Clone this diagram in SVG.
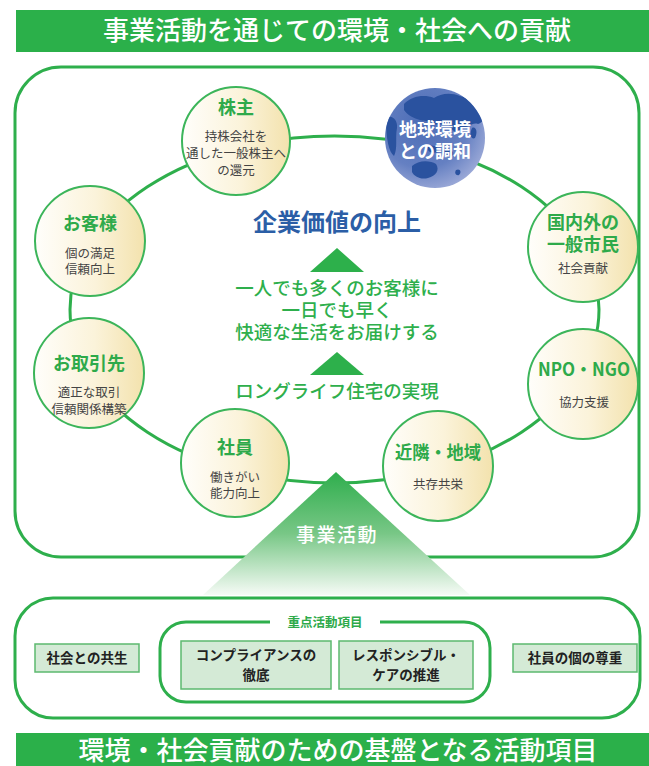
<svg xmlns="http://www.w3.org/2000/svg" width="649" height="766" viewBox="0 0 649 766">
  <style>
    .jp { font-family: "Noto Sans CJK JP", "Noto Sans", sans-serif; }
    .bar { fill: #2bb04a; }
    .bar-text { fill: #ffffff; font-size: 26px; font-weight: 500; text-anchor: middle; }
    .frame { fill: none; stroke: #2eaf4c; stroke-width: 3; }
    .ring { fill: none; stroke: #2eaf4c; stroke-width: 3; }
    .node-circle { fill: url(#cream); stroke: #3cb55a; stroke-width: 2; }
    .node-title { fill: #2eaa4a; font-size: 18px; font-weight: 700; text-anchor: middle; }
    .node-sub { fill: #444444; font-size: 12.5px; text-anchor: middle; }
    .center-green { fill: #2eaf4c; font-size: 18.5px; font-weight: 500; text-anchor: middle; }
    .box { fill: #d4ead6; stroke: #5cb96f; stroke-width: 1.5; }
    .box-text { fill: #222222; font-size: 13.5px; font-weight: 700; text-anchor: middle; }
    .land { fill: #2a529f; }
  </style>
  <defs>
    <linearGradient id="cream" x1="0" y1="0" x2="1" y2="0">
      <stop offset="0" stop-color="#fffefb"/>
      <stop offset="0.55" stop-color="#fbf3da"/>
      <stop offset="1" stop-color="#f3e2ad"/>
    </linearGradient>
    <radialGradient id="globeShade" cx="0.38" cy="0.35" r="0.75">
      <stop offset="0" stop-color="#4b6cb6"/>
      <stop offset="0.6" stop-color="#6580c2"/>
      <stop offset="1" stop-color="#a7b2dc"/>
    </radialGradient>
    <linearGradient id="pyramid" x1="0" y1="0" x2="0" y2="1">
      <stop offset="0" stop-color="#2fae4d"/>
      <stop offset="0.5" stop-color="#78c786"/>
      <stop offset="1" stop-color="#f6fbf6"/>
    </linearGradient>
    <clipPath id="globeClip">
      <circle cx="435" cy="138" r="50"/>
    </clipPath>
  </defs>

  <!-- top heading -->
  <g id="heading-top">
    <rect class="bar" x="16" y="10" width="633" height="42"/>
    <text class="jp bar-text" x="337" y="40">事業活動を通じての環境・社会への貢献</text>
  </g>

  <!-- outer frame of the upper section -->
  <rect class="frame" x="15" y="67" width="624" height="490" rx="46"/>

  <!-- connectors: the ring linking all stakeholders -->
  <g id="connectors">
    <ellipse class="ring" cx="334.5" cy="309.5" rx="264.5" ry="173.5"/>
  </g>

  <!-- central statements -->
  <g id="center">
    <text class="jp" x="337" y="231" fill="#2b5ea6" font-size="24" font-weight="700" text-anchor="middle">企業価値の向上</text>
    <polygon points="337,248 310,272 364,272" fill="#2db04b"/>
    <text class="jp center-green" x="337" y="295">一人でも多くのお客様に</text>
    <text class="jp center-green" x="337" y="317">一日でも早く</text>
    <text class="jp center-green" x="337" y="339">快適な生活をお届けする</text>
    <polygon points="337,352 310,375 364,375" fill="#2db04b"/>
    <text class="jp center-green" x="337" y="398">ロングライフ住宅の実現</text>
  </g>

  <!-- stakeholder nodes -->
  <g id="node-shareholders">
    <circle class="node-circle" cx="236" cy="141" r="54"/>
    <text class="jp node-title" x="236" y="114">株主</text>
    <text class="jp node-sub" x="236" y="141">持株会社を</text>
    <text class="jp node-sub" x="236" y="158">通した一般株主へ</text>
    <text class="jp node-sub" x="236" y="175">の還元</text>
  </g>

  <g id="node-globe">
    <circle cx="435" cy="138" r="50" fill="url(#globeShade)"/>
    <g clip-path="url(#globeClip)">
      <!-- Eurasia -->
      <path class="land" d="M404,104 C412,96 424,94 434,98 C440,94 450,92 460,96 C468,98 476,102 482,110 C486,116 484,122 478,124 C472,122 468,128 462,128 C458,134 452,132 450,126 C446,122 440,126 434,124 C430,120 426,122 420,120 C414,118 408,116 404,110 Z"/>
      <!-- Africa / west edge -->
      <path class="land" d="M386,118 C392,114 398,120 397,128 C395,138 398,148 394,156 C389,152 386,140 386,118 Z"/>
      <!-- Japan / islands -->
      <path class="land" d="M472,128 C476,126 478,132 475,138 C471,140 469,134 472,128 Z"/>
      <!-- South-east Asia islands -->
      <path class="land" d="M428,146 C434,144 440,148 438,152 C432,154 426,152 428,146 Z"/>
      <path class="land" d="M444,150 C450,148 456,152 452,156 C447,157 443,155 444,150 Z"/>
      <!-- Australia -->
      <path class="land" d="M412,166 C418,160 430,160 436,164 C440,170 436,176 428,178 C420,180 414,176 412,172 Z"/>
      <path class="land" d="M456,170 C460,168 462,172 459,175 C456,176 454,173 456,170 Z"/>
    </g>
    <text class="jp" x="435" y="136" fill="#ffffff" font-size="18" font-weight="700" text-anchor="middle">地球環境</text>
    <text class="jp" x="435" y="158" fill="#ffffff" font-size="18" font-weight="700" text-anchor="middle">との調和</text>
  </g>

  <g id="node-customers">
    <circle class="node-circle" cx="90" cy="241" r="55"/>
    <text class="jp node-title" x="90" y="230">お客様</text>
    <text class="jp node-sub" x="90" y="258">個の満足</text>
    <text class="jp node-sub" x="90" y="274">信頼向上</text>
  </g>

  <g id="node-citizens">
    <circle class="node-circle" cx="583" cy="247" r="55"/>
    <text class="jp node-title" x="583" y="229">国内外の</text>
    <text class="jp node-title" x="583" y="251">一般市民</text>
    <text class="jp node-sub" x="583" y="273">社会貢献</text>
  </g>

  <g id="node-partners">
    <circle class="node-circle" cx="89" cy="373" r="55"/>
    <text class="jp node-title" x="89" y="370">お取引先</text>
    <text class="jp node-sub" x="89" y="397">適正な取引</text>
    <text class="jp node-sub" x="89" y="414">信頼関係構築</text>
  </g>

  <g id="node-npo">
    <circle class="node-circle" cx="583" cy="384" r="55"/>
    <text class="jp node-title" x="584" y="376" textLength="92" lengthAdjust="spacingAndGlyphs">NPO・NGO</text>
    <text class="jp node-sub" x="584" y="407">協力支援</text>
  </g>

  <g id="node-employees">
    <circle class="node-circle" cx="235" cy="463" r="54"/>
    <text class="jp node-title" x="235" y="454">社員</text>
    <text class="jp node-sub" x="235" y="482">働きがい</text>
    <text class="jp node-sub" x="235" y="498">能力向上</text>
  </g>

  <g id="node-community">
    <circle class="node-circle" cx="438" cy="466" r="55"/>
    <text class="jp node-title" x="438" y="459" textLength="86" lengthAdjust="spacingAndGlyphs">近隣・地域</text>
    <text class="jp node-sub" x="438" y="489">共存共栄</text>
  </g>

  <!-- lower section: foundation activities -->
  <g id="foundation">
    <rect class="frame" x="15" y="598" width="625" height="120" rx="38"/>
    <rect x="160" y="622" width="330" height="80" rx="26" fill="none" stroke="#2eaf4c" stroke-width="3"/>
    <rect x="270" y="614" width="110" height="16" fill="#ffffff"/>
    <text class="jp" x="325" y="627" fill="#2eaa4a" font-size="12.5" font-weight="700" text-anchor="middle">重点活動項目</text>

    <g id="box-society">
      <rect class="box" x="35" y="644" width="104" height="28"/>
      <text class="jp box-text" x="87" y="663">社会との共生</text>
    </g>
    <g id="box-compliance">
      <rect class="box" x="181" y="641" width="150" height="48"/>
      <text class="jp box-text" x="256" y="660">コンプライアンスの</text>
      <text class="jp box-text" x="256" y="680">徹底</text>
    </g>
    <g id="box-responsible-care">
      <rect class="box" x="339" y="641" width="134" height="48"/>
      <text class="jp box-text" x="406" y="660">レスポンシブル・</text>
      <text class="jp box-text" x="406" y="680">ケアの推進</text>
    </g>
    <g id="box-respect">
      <rect class="box" x="513" y="644" width="124" height="28"/>
      <text class="jp box-text" x="575" y="663">社員の個の尊重</text>
    </g>
  </g>

  <!-- business activity pyramid rising from the foundation -->
  <g id="pyramid-business">
    <polygon points="336,472 203,595 470,595" fill="url(#pyramid)"/>
    <text class="jp" x="337" y="542" fill="#ffffff" font-size="19" font-weight="500" letter-spacing="1.5" text-anchor="middle">事業活動</text>
  </g>

  <!-- bottom heading -->
  <g id="heading-bottom">
    <rect class="bar" x="16" y="733" width="633" height="33"/>
    <text class="jp bar-text" x="338" y="760">環境・社会貢献のための基盤となる活動項目</text>
  </g>
</svg>
